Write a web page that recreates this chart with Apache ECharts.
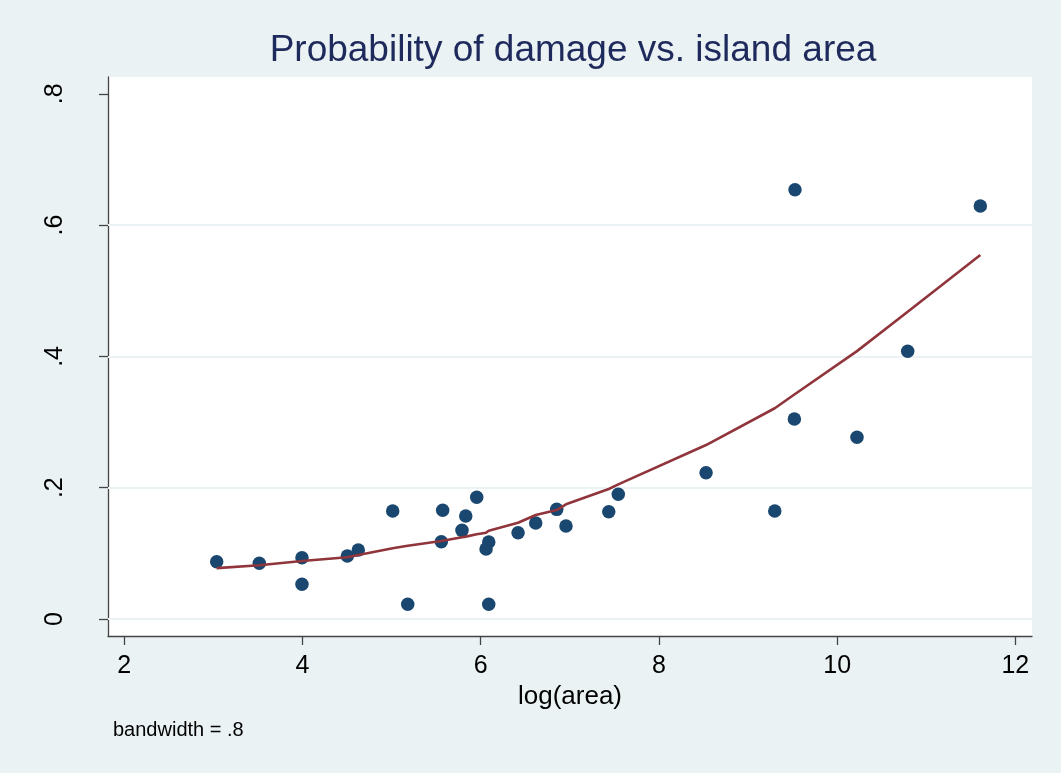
<!DOCTYPE html>
<html>
<head>
<meta charset="utf-8">
<script src="https://cdn.jsdelivr.net/npm/echarts@6/dist/echarts.min.js"></script>
<style>
html,body{margin:0;padding:0;background:#EAF2F3;}
#c{width:1061px;height:773px;}
</style>
</head>
<body>
<div id="c"></div>
<script>
// observed data: log(area) and probability of damage
const logArea = [3.037, 3.515, 3.994, 3.994, 4.503, 4.626, 5.012, 5.181, 5.573, 5.558,
  5.79, 5.832, 5.955, 6.09, 6.06, 6.09, 6.419, 6.617, 6.853, 6.957,
  7.437, 7.544, 8.529, 9.527, 11.607, 10.792, 9.52, 10.223, 9.30];
const probDamage = [0.0873, 0.0848, 0.0934, 0.0528, 0.096, 0.105, 0.1645, 0.0224, 0.1656, 0.1178,
  0.135, 0.157, 0.1854, 0.1173, 0.1066, 0.0224, 0.1315, 0.1462, 0.167, 0.1417,
  0.1635, 0.1899, 0.2229, 0.654, 0.629, 0.408, 0.3047, 0.2768, 0.1645];
// lowess smooth (bandwidth = .8)
const lowessX = [3.037, 3.515, 3.994, 4.503, 4.626, 5.012, 5.181, 5.558, 5.573, 5.79, 5.832, 5.955,
  6.06, 6.09, 6.419, 6.617, 6.853, 6.957, 7.437, 7.544, 8.529, 9.30, 9.52, 9.527, 10.223, 10.792, 11.607];
const lowessY = [0.0775, 0.0818, 0.0883, 0.094, 0.0975, 0.1077, 0.1117, 0.1188, 0.119, 0.1245, 0.1255, 0.129,
  0.1315, 0.1345, 0.1467, 0.1584, 0.166, 0.1747, 0.198, 0.205, 0.265, 0.321, 0.342, 0.343, 0.408, 0.468, 0.5545];
const xTicks = [2, 4, 6, 8, 10, 12];
const yTicks = [0, 0.2, 0.4, 0.6, 0.8];
const yGrid = [0, 0.2, 0.4, 0.6];
const titleText = 'Probability of damage vs. island area';
const noteText = 'bandwidth = .8';

const FONT = '"Liberation Sans", Arial, sans-serif';
const chart = echarts.init(document.getElementById('c'), null, {renderer: 'canvas'});
const fmtY = v => { if (Math.abs(v) < 1e-9) return '0'; return String(Math.round(v*10)/10).replace(/^0/, ''); };

chart.setOption({
  backgroundColor: '#EAF2F3',
  animation: false,
  grid: {left: 108, top: 77, right: 29, bottom: 137, show: true, backgroundColor: '#ffffff', borderWidth: 0},
  xAxis: {
    type: 'value', min: 1.817, max: 12.187,
    name: 'log(area)', nameLocation: 'middle', nameGap: 42,
    nameTextStyle: {fontFamily: FONT, fontSize: 26, color: '#000'},
    axisLine: {show: true, onZero: false, lineStyle: {color: '#444', width: 1.3}},
    axisTick: {show: true, customValues: xTicks, length: 9, lineStyle: {color: '#444', width: 1.3}},
    axisLabel: {customValues: xTicks, margin: 18, fontFamily: FONT, fontSize: 25, color: '#000'},
    splitLine: {show: false}
  },
  yAxis: {
    type: 'value', min: -0.0259, max: 0.8256,
    axisLine: {show: true, onZero: false, lineStyle: {color: '#444', width: 1.3}},
    axisTick: {show: true, customValues: yTicks, length: 9, lineStyle: {color: '#444', width: 1.3}},
    axisLabel: {customValues: yTicks, rotate: 90, margin: 40, fontFamily: FONT, fontSize: 25, color: '#000', formatter: fmtY},
    splitLine: {show: false}
  },
  graphic: [
    {type: 'text', x: 573, y: 51, style: {text: titleText, font: '37px ' + FONT, fill: '#1f2a5c', textAlign: 'center', textVerticalAlign: 'middle'}},
    {type: 'text', x: 113, y: 730, style: {text: noteText, font: '20px ' + FONT, fill: '#000', textAlign: 'left', textVerticalAlign: 'middle'}}
  ],
  series: [
    {
      type: 'scatter', data: [], z: 1, silent: true,
      markLine: {z: 1, silent: true, symbol: 'none', label: {show: false}, animation: false,
        lineStyle: {color: '#EAF2F3', width: 2, type: 'solid'},
        data: yGrid.map(v => ({yAxis: v}))}
    },
    {
      type: 'scatter', z: 3, symbol: 'circle', symbolSize: 13.5,
      itemStyle: {color: '#1a476f', opacity: 1},
      data: logArea.map((x, i) => [x, probDamage[i]])
    },
    {
      type: 'line', z: 4, showSymbol: false, symbol: 'none', smooth: false,
      lineStyle: {color: '#90353b', width: 2.6},
      data: lowessX.map((x, i) => [x, lowessY[i]])
    }
  ]
});
</script>
</body>
</html>
